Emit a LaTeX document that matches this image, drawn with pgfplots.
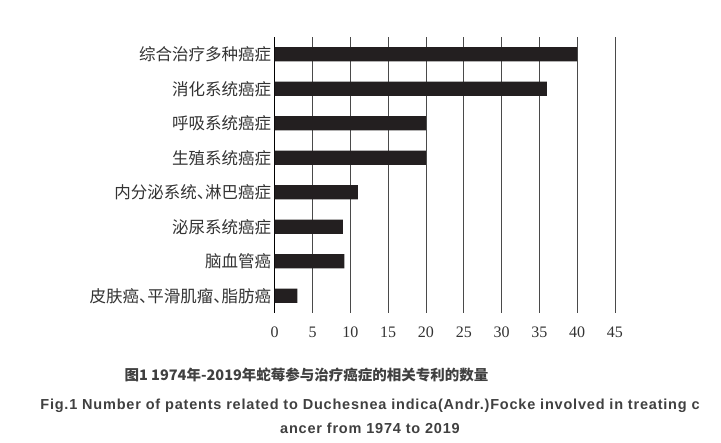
\documentclass[border=0pt]{standalone}
\usepackage{pgfplots}
\pgfplotsset{compat=1.18}
\usepackage{fontspec}
\setmainfont{Liberation Serif}
\newfontfamily\cjk{Noto Sans CJK SC}
\newfontfamily\cjkh{Noto Sans CJK SC}[RawFeature=+halt]
\newfontfamily\capsans{Liberation Sans}[LetterSpace=5.5]

\definecolor{barcol}{HTML}{231F20}
\definecolor{gridcol}{HTML}{4A4A4A}
\definecolor{capcol}{HTML}{404040}

\begin{document}
\begin{tikzpicture}[x=1pt,y=1pt]
\path[use as bounding box] (0,0) rectangle (721,443);
\begin{axis}[
    at={(274.7pt,130pt)}, anchor=south west,
    scale only axis,
    width=340.3pt, height=276pt,
    xbar,
    xmin=0, xmax=45,
    ymin=0.5, ymax=8.5,
    y dir=reverse,
    bar width=14.4pt,
    xtick={0,5,...,45},
    ytick={1,2,3,4,5,6,7,8},
    yticklabels={综合治疗多种癌症, 消化系统癌症, 呼吸系统癌症, 生殖系统癌症,
                 内分泌系统、淋巴癌症, 泌尿系统癌症, 脑血管癌, 皮肤癌、平滑肌瘤、脂肪癌},
    yticklabel style={font=\cjkh\fontsize{16.5}{18}\selectfont, text=black!80},
    xticklabel style={font=\fontsize{16}{18}\selectfont, text=black!80, yshift=-10pt},
    /pgf/number format/assume math mode=true,
    major tick length=0pt,
    axis x line*=bottom,
    axis y line*=left,
    x axis line style={draw=none},
    y axis line style={draw=black, line width=0.9pt, -},
    xmajorgrids=true,
    grid style={draw=gridcol, line width=0.8pt},
]
\addplot[fill=barcol, draw=none] coordinates {
    (40,1)  % 综合治疗多种癌症
    (36,2)  % 消化系统癌症
    (20,3)  % 呼吸系统癌症
    (20,4)  % 生殖系统癌症
    (11,5)  % 内分泌系统、淋巴癌症
    (9,6)   % 泌尿系统癌症
    (9.2,7) % 脑血管癌
    (3,8)   % 皮肤癌、平滑肌瘤、脂肪癌
};
\end{axis}
% captions
\node[text=capcol, font=\cjk\bfseries\fontsize{14.5}{16}\selectfont] at (306.5,68) {图1 1974年-2019年蛇莓参与治疗癌症的相关专利的数量};
\node[text=capcol, font=\capsans\bfseries\fontsize{14.5}{16}\selectfont] at (370,37) {Fig.1 Number of patents related to Duchesnea indica(Andr.)Focke involved in treating c};
\node[text=capcol, font=\capsans\bfseries\fontsize{14.5}{16}\selectfont] at (370,15) {ancer from 1974 to 2019};
\end{tikzpicture}
\end{document}
